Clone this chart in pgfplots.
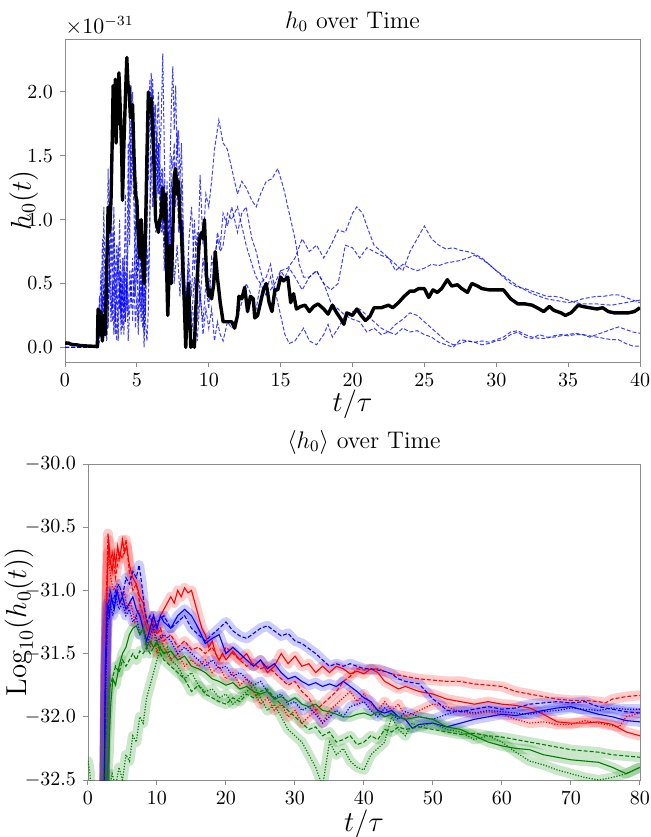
\documentclass[border=0pt]{standalone}
\usepackage{pgfplots}
\usepackage{pgfplotstable}
\pgfplotsset{compat=1.18}

\definecolor{mplgreen}{rgb}{0,0.5,0}

\pgfplotsset{
 myax/.style={scale only axis, axis line style={black!45}, tick style={black!45, line width=0.5pt},
  tick align=outside, major tick length=2.5pt, tick pos=left,
  tick label style={font=\fontsize{10}{12}\selectfont},
  label style={font=\fontsize{14.5}{17}\selectfont},
  title style={font=\fontsize{12}{14}\selectfont},
  yticklabel style={/pgf/number format/fixed, /pgf/number format/fixed zerofill, /pgf/number format/precision=1},
  scaled y ticks=false, scaled x ticks=false},
 blu/.style={blue, opacity=0.75, line width=0.5pt, dash pattern=on 2pt off 1pt},
 band/.style={draw opacity=0.2, line width=5pt, line join=round, line cap=round, forget plot},
 lsol/.style={line width=0.55pt},
 ldsh/.style={line width=0.55pt, dash pattern=on 2pt off 1pt},
 ldot/.style={line width=0.6pt, dash pattern=on 0.6pt off 0.8pt},
}

% ---------------- top panel data (units of 1e-31) ----------------
\pgfplotstableread{
t y
0 0.04
0.1 0.03
0.2 0.035
0.4 0.025
0.6 0.02
0.8 0.02
1.0 0.015
1.3 0.012
1.6 0.01
2.0 0.008
2.25 0.005
2.3 0.3
2.4 0.25
2.45 0.1
2.5 0.28
2.6 0.05
2.7 0.25
2.8 0.1
2.9 0.6
3.0 1.1
3.1 0.9
3.2 1.15
3.3 1.7
3.35 2.05
3.45 1.85
3.5 2.1
3.55 1.6
3.65 2.0
3.7 1.75
3.75 2.15
3.85 1.85
3.95 1.5
4.0 1.15
4.1 1.6
4.2 1.95
4.3 2.27
4.4 2.0
4.45 2.05
4.55 1.8
4.7 1.9
4.8 1.5
4.9 1.2
5.0 1.15
5.1 0.85
5.2 0.7
5.3 1.0
5.4 0.65
5.5 0.5
5.6 0.9
5.7 1.5
5.8 2.0
5.9 1.85
6.0 1.95
6.1 1.7
6.2 1.4
6.3 1.0
6.4 0.95
6.5 0.9
6.6 1.0
6.7 1.05
6.8 1.25
6.9 1.0
7.0 1.2
7.05 0.7
7.15 0.25
7.3 0.8
7.4 0.5
7.5 0.9
7.6 1.35
7.7 1.4
7.8 1.2
7.9 1.3
8.0 1.0
8.1 0.9
8.2 0.6
8.3 0.35
8.4 0.0
8.5 0.3
8.6 0.5
8.75 0.0
8.9 0.05
9.0 0.0
9.1 0.3
9.2 0.55
9.35 0.85
9.5 0.9
9.6 0.85
9.7 1.0
9.85 0.55
10.0 0.4
10.1 0.45
10.2 0.38
10.35 0.5
10.45 0.75
10.6 0.55
10.8 0.35
11.0 0.2
11.3 0.2
11.6 0.2
11.8 0.15
12.0 0.25
12.1 0.4
12.3 0.38
12.5 0.47
12.7 0.28
12.9 0.4
13.1 0.38
13.2 0.23
13.4 0.25
13.6 0.35
13.8 0.45
14.0 0.5
14.2 0.35
14.4 0.28
14.6 0.45
14.8 0.45
15.0 0.55
15.2 0.52
15.5 0.55
15.7 0.35
15.9 0.42
16.1 0.3
16.4 0.32
16.7 0.33
17.0 0.28
17.3 0.32
17.6 0.34
18.0 0.3
18.3 0.26
18.6 0.33
18.9 0.27
19.2 0.22
19.4 0.18
19.6 0.27
20.0 0.25
20.3 0.3
20.6 0.25
20.9 0.21
21.2 0.24
21.5 0.31
22.0 0.31
22.5 0.33
22.8 0.31
23.2 0.35
23.6 0.4
24.0 0.44
24.3 0.44
24.6 0.46
25.0 0.46
25.3 0.39
25.6 0.45
25.9 0.43
26.2 0.46
26.6 0.53
26.9 0.48
27.3 0.49
27.6 0.46
28.0 0.43
28.3 0.5
28.7 0.48
29.0 0.46
29.5 0.45
30.0 0.45
30.5 0.45
31.0 0.38
31.5 0.34
32.0 0.34
32.5 0.33
33.0 0.3
33.3 0.28
33.7 0.32
34.0 0.29
34.5 0.27
34.8 0.25
35.2 0.27
35.7 0.33
36.0 0.32
36.5 0.31
37.0 0.3
37.4 0.31
37.8 0.28
38.2 0.27
38.7 0.27
39.2 0.27
39.6 0.28
40.0 0.31
}\tabblk

\pgfplotstableread{
t y
0 0
2.3 0
2.4 0.4
2.5 0.1
2.6 0.85
2.7 0.2
2.8 0.6
2.9 0.1
3.0 1.4
3.1 0.5
3.2 1.0
3.3 0.3
3.4 0.9
3.5 0.2
3.6 0.6
3.7 0.05
3.8 0.5
3.9 0.2
4.0 0.7
4.1 0.3
4.2 1.2
4.3 0.4
4.4 0.9
4.5 1.8
4.6 1.2
4.7 2.0
4.8 1.5
4.9 0.9
5.0 1.3
5.1 0.6
5.2 1.0
5.3 0.3
5.4 0.7
5.5 0.0
5.6 0.4
5.7 1.7
5.8 1.3
5.9 2.1
6.0 1.8
6.1 2.0
6.2 1.5
6.3 1.9
6.4 1.2
6.5 1.6
6.6 1.0
6.7 1.4
6.8 0.9
6.9 1.3
7.0 0.6
7.1 1.1
7.2 0.8
7.3 1.2
7.4 0.6
7.5 0.9
7.6 0.5
7.8 0.8
8.0 0.4
8.2 0.9
8.4 0.3
8.6 0.5
8.8 0.1
9.0 0.3
9.2 0.05
9.4 0.4
9.6 0.2
9.8 0.5
10.0 0.3
10.2 0.7
10.4 0.6
10.6 0.9
10.8 0.8
11.0 1.05
11.3 0.95
11.6 1.1
12.0 0.9
12.3 1.05
12.6 1.1
13.0 0.85
13.3 0.75
13.6 0.6
14.0 0.45
14.3 0.55
14.6 0.4
15.0 0.6
15.5 0.62
16.0 0.7
16.5 0.85
17.0 0.75
17.5 0.8
18.0 0.7
18.5 0.8
19.0 0.92
19.5 0.9
20.0 1.05
20.3 1.1
20.7 1.05
21.0 0.95
21.5 0.8
22.0 0.75
22.5 0.7
23.0 0.65
23.5 0.6
24.0 0.75
24.5 0.85
25.0 0.95
25.5 0.85
26.0 0.8
26.5 0.77
27.0 0.78
27.5 0.76
28.0 0.75
28.5 0.73
29.0 0.7
29.5 0.65
30.0 0.6
30.5 0.55
31.0 0.5
31.5 0.47
32.0 0.46
32.5 0.44
33.0 0.42
33.5 0.4
34.0 0.4
34.5 0.39
35.0 0.37
35.5 0.35
36.0 0.34
37.0 0.34
38.0 0.33
39.0 0.35
40.0 0.37
}\tabbone

\pgfplotstableread{
t y
0 0
2.3 0
2.4 0.2
2.5 0.6
2.6 0.1
2.7 1.1
2.8 0.3
2.9 0.9
3.0 0.15
3.1 0.7
3.2 1.3
3.3 0.6
3.4 1.1
3.5 0.4
3.6 0.8
3.7 0.5
3.8 1.0
3.9 0.25
4.0 0.5
4.1 0.1
4.2 0.6
4.3 0.3
4.4 1.6
4.5 0.8
4.6 2.05
4.7 1.4
4.8 1.1
4.9 0.4
5.0 0.8
5.1 0.2
5.2 0.6
5.3 0.9
5.4 0.4
5.5 0.8
5.6 0.2
5.7 0.05
5.8 0.3
5.9 1.0
6.0 2.15
6.1 1.6
6.2 1.9
6.3 1.3
6.4 1.7
6.5 2.0
6.6 1.5
6.7 1.8
6.8 2.3
6.9 1.6
7.0 0.9
7.1 1.3
7.2 0.7
7.3 1.4
7.4 1.9
7.5 2.2
7.6 1.7
7.7 2.05
7.8 1.5
7.9 1.7
8.0 1.3
8.1 1.6
8.2 1.1
8.3 0.6
8.4 0.3
8.6 0.7
8.8 0.4
9.0 1.0
9.2 0.5
9.4 1.35
9.6 0.8
9.8 1.2
10.0 1.1
10.2 1.3
10.4 1.55
10.7 1.78
11.0 1.6
11.3 1.55
11.6 1.4
12.0 1.2
12.3 1.3
12.6 1.25
13.0 1.15
13.3 1.1
13.6 1.2
14.0 1.3
14.4 1.32
14.8 1.4
15.2 1.25
15.6 1.05
16.0 0.85
16.3 0.65
16.6 0.55
17.0 0.55
17.5 0.6
18.0 0.5
18.5 0.35
19.0 0.3
19.5 0.25
20.0 0.22
20.5 0.2
21.0 0.12
21.5 0.15
22.0 0.1
22.5 0.12
23.0 0.1
23.5 0.15
24.0 0.12
24.5 0.13
25.0 0.1
25.5 0.08
26.0 0.04
26.5 0.02
27.0 0.0
27.5 0.06
28.0 0.05
28.5 0.04
29.0 0.05
29.5 0.04
30.0 0.06
30.5 0.08
31.0 0.12
31.5 0.13
32.0 0.1
32.5 0.08
33.0 0.07
33.5 0.07
34.0 0.09
34.5 0.1
35.0 0.09
35.5 0.1
36.0 0.1
36.5 0.09
37.0 0.08
37.5 0.07
38.0 0.06
38.5 0.06
39.0 0.03
39.5 0.01
40.0 0.01
}\tabbtwo

\pgfplotstableread{
t y
0 0
2.3 0
2.4 0.1
2.5 0.3
2.6 0.05
2.7 0.5
2.8 0.2
2.9 0.7
3.0 0.3
3.1 0.8
3.2 0.4
3.3 0.2
3.4 0.6
3.5 0.1
3.6 0.45
3.7 0.8
3.8 0.3
3.9 0.6
4.0 0.15
4.1 0.45
4.2 0.2
4.3 0.55
4.4 0.25
4.5 0.6
4.6 0.3
4.7 0.7
4.8 0.4
4.9 0.95
5.0 0.5
5.1 0.8
5.2 0.35
5.3 0.6
5.4 0.15
5.5 0.5
5.6 0.25
5.7 0.8
5.8 0.5
5.9 1.0
6.0 1.5
6.1 1.1
6.2 1.3
6.3 0.9
6.4 1.2
6.5 1.6
6.6 1.2
6.7 1.0
6.8 1.4
6.9 0.8
7.0 1.1
7.1 0.5
7.2 0.9
7.3 0.6
7.4 1.5
7.5 1.4
7.6 1.6
7.7 1.2
7.8 1.7
7.9 1.3
8.0 0.9
8.1 1.3
8.2 0.8
8.3 0.5
8.4 0.2
8.6 0.8
8.8 1.1
9.0 0.6
9.2 0.9
9.4 0.35
9.6 0.7
9.8 0.5
10.0 0.55
10.2 0.4
10.4 0.7
10.6 0.85
10.8 0.75
11.0 0.8
11.3 1.05
11.6 1.0
12.0 1.1
12.3 0.95
12.6 0.8
13.0 0.65
13.3 0.55
13.6 0.5
14.0 0.4
14.3 0.45
14.6 0.5
15.0 0.6
15.3 0.55
15.6 0.62
16.0 0.55
16.5 0.45
17.0 0.55
17.5 0.6
18.0 0.5
18.5 0.45
19.0 0.5
19.5 0.8
20.0 0.78
20.5 0.7
21.0 0.78
21.5 0.75
22.0 0.72
22.5 0.7
23.0 0.6
23.5 0.65
24.0 0.62
24.5 0.6
25.0 0.62
25.5 0.65
26.0 0.64
26.5 0.66
27.0 0.67
27.5 0.68
28.0 0.7
28.5 0.72
29.0 0.69
29.5 0.65
30.0 0.6
30.5 0.56
31.0 0.52
31.5 0.48
32.0 0.45
32.5 0.42
33.0 0.4
33.5 0.38
34.0 0.37
34.5 0.36
35.0 0.35
35.5 0.36
36.0 0.38
36.5 0.39
37.0 0.4
37.5 0.4
38.0 0.41
38.5 0.41
39.0 0.39
39.5 0.37
40.0 0.35
}\tabbthree

\pgfplotstableread{
t y
0 0
2.3 0
2.4 0.05
2.5 0.2
2.6 0.4
2.7 0.15
2.8 0.35
2.9 0.05
3.0 0.25
3.1 0.6
3.2 0.2
3.3 0.5
3.4 0.1
3.5 0.35
3.6 0.05
3.7 0.3
3.8 0.6
3.9 0.1
4.0 0.4
4.1 0.7
4.2 0.2
4.3 0.5
4.4 0.05
4.5 0.3
4.6 0.6
4.7 0.2
4.8 0.55
4.9 0.15
5.0 0.4
5.1 0.1
5.2 0.45
5.3 0.2
5.4 0.5
5.5 0.1
5.6 0.6
5.7 0.9
5.8 1.6
5.9 1.9
6.0 1.7
6.1 2.1
6.2 1.8
6.3 1.4
6.4 1.7
6.5 1.2
6.6 1.5
6.7 0.9
6.8 1.2
6.9 0.6
7.0 0.9
7.1 0.4
7.2 0.7
7.3 1.0
7.4 1.3
7.5 1.0
7.6 1.45
7.7 1.1
7.8 1.35
7.9 0.9
8.0 1.2
8.1 0.8
8.2 1.0
8.3 0.6
8.4 0.3
8.6 0.6
8.8 0.2
9.0 0.55
9.2 0.2
9.4 0.45
9.6 0.1
9.8 0.3
10.0 0.15
10.2 0.3
10.4 0.05
10.6 0.2
10.8 0.1
11.0 0.05
11.3 0.2
11.6 0.15
12.0 0.25
12.3 0.35
12.6 0.5
13.0 0.4
13.3 0.3
13.6 0.5
14.0 0.55
14.3 0.65
14.6 0.45
15.0 0.25
15.3 0.1
15.6 0.03
16.0 0.05
16.3 0.1
16.6 0.15
17.0 0.05
17.5 0.02
18.0 0.1
18.3 0.18
18.6 0.08
19.0 0.15
19.5 0.25
20.0 0.28
20.5 0.3
21.0 0.25
21.5 0.2
22.0 0.15
22.5 0.12
23.0 0.18
23.5 0.22
24.0 0.27
24.5 0.25
25.0 0.2
25.5 0.15
26.0 0.1
26.5 0.05
27.0 0.02
27.5 0.03
28.0 0.05
28.5 0.04
29.0 0.02
29.5 0.03
30.0 0.05
30.5 0.06
31.0 0.1
31.5 0.12
32.0 0.08
32.5 0.07
33.0 0.1
33.5 0.08
34.0 0.08
34.5 0.09
35.0 0.1
35.5 0.11
36.0 0.1
36.5 0.08
37.0 0.1
37.5 0.12
38.0 0.14
38.5 0.16
39.0 0.14
39.5 0.12
40.0 0.11
}\tabbfour

% ---------------- bottom panel data: t, log10 mean ----------------
\pgfplotstableread{
t y
2.3 -33.0
2.6 -31.3
2.8 -30.9
3.0 -30.6
3.2 -30.75
3.5 -30.85
3.8 -30.7
4.0 -30.8
4.3 -30.65
4.6 -30.75
5.0 -30.6
5.3 -30.7
5.6 -30.65
6.0 -30.8
6.5 -30.9
7.0 -30.95
7.5 -31.05
8.0 -31.1
8.5 -31.25
9.0 -31.3
9.5 -31.2
10 -31.3
10.5 -31.2
11 -31.15
11.5 -31.1
12 -31.05
12.5 -31.1
13 -31.0
13.5 -31.05
14 -30.98
14.5 -31.02
15 -31.0
15.5 -31.1
16 -31.2
16.5 -31.3
17 -31.35
17.5 -31.45
18 -31.4
18.5 -31.5
19 -31.55
19.5 -31.5
20 -31.55
21 -31.48
22 -31.55
23 -31.5
24 -31.6
25 -31.55
26 -31.65
27 -31.6
28 -31.5
29 -31.58
30 -31.52
31 -31.6
32 -31.58
33 -31.65
34 -31.6
35 -31.65
36 -31.6
37 -31.62
38 -31.66
39 -31.64
40 -31.66
41 -31.62
42 -31.65
43 -31.72
44 -31.75
45 -31.78
46 -31.76
48 -31.8
50 -31.82
52 -31.86
54 -31.88
56 -31.9
58 -31.88
60 -31.9
62 -31.91
64 -31.93
66 -31.98
68 -32.04
70 -32.05
72 -32.05
74 -32.04
76 -32.06
78 -32.12
80 -32.15
}\tabrs

\pgfplotstableread{
t y
2.3 -33.0
2.6 -31.2
2.9 -30.55
3.2 -30.8
3.5 -30.7
4.0 -30.9
4.5 -30.7
5.0 -30.75
5.5 -30.6
6.0 -30.85
6.5 -31.0
7.0 -30.95
7.5 -31.1
8.0 -31.2
8.5 -31.3
9.0 -31.35
9.5 -31.25
10 -31.35
10.5 -31.3
11 -31.4
12 -31.35
13 -31.45
14 -31.4
15 -31.47
16 -31.45
17 -31.5
18 -31.45
19 -31.55
20 -31.45
21 -31.5
22 -31.55
23 -31.6
24 -31.58
25 -31.62
26 -31.6
27 -31.65
28 -31.7
29 -31.75
30 -31.72
31 -31.8
32 -31.85
33 -31.95
34 -31.9
35 -31.85
36 -31.8
37 -31.72
38 -31.68
39 -31.62
40 -31.63
42 -31.62
44 -31.66
46 -31.68
48 -31.7
50 -31.71
52 -31.72
54 -31.72
56 -31.74
58 -31.75
60 -31.76
62 -31.8
64 -31.82
66 -31.84
68 -31.86
70 -31.87
72 -31.87
74 -31.88
75 -31.89
76 -31.86
78 -31.84
80 -31.83
}\tabrd

\pgfplotstableread{
t y
2.3 -33.0
2.6 -31.5
2.9 -30.7
3.3 -30.9
3.7 -31.0
4.2 -30.95
4.7 -31.1
5.2 -31.0
5.7 -31.15
6.2 -31.1
6.8 -31.25
7.3 -31.15
8.0 -31.3
8.5 -31.35
9.0 -31.45
9.5 -31.3
10 -31.5
10.5 -31.35
11 -31.45
12 -31.55
13 -31.5
14 -31.6
15 -31.55
16 -31.6
17 -31.55
18 -31.65
19 -31.6
20 -31.7
21 -31.65
22 -31.75
23 -31.7
24 -31.8
25 -31.9
26 -31.85
27 -31.95
28 -31.9
29 -32.0
30 -31.95
31 -32.05
32 -32.0
33 -31.95
34 -32.05
35 -31.95
36 -31.9
37 -31.85
38 -31.8
39 -31.88
40 -31.82
41 -31.9
42 -31.95
43 -31.88
44 -31.95
45 -31.9
46 -32.0
48 -31.95
50 -31.9
52 -31.92
54 -31.96
56 -31.98
58 -31.96
60 -31.98
62 -32.02
64 -32.05
66 -32.04
68 -32.06
70 -32.06
72 -32.03
74 -32.05
76 -32.07
77 -32.08
78 -32.0
80 -31.97
}\tabrt

\pgfplotstableread{
t y
2.3 -33.0
2.5 -31.6
2.8 -31.1
3.1 -31.2
3.4 -31.05
3.8 -31.15
4.2 -31.0
4.6 -31.1
5.0 -31.05
5.5 -31.15
6.0 -31.1
6.5 -31.05
7.0 -31.15
7.5 -31.2
8.0 -31.3
8.5 -31.4
9.0 -31.3
9.5 -31.2
10 -31.3
10.5 -31.2
11 -31.25
12 -31.3
13 -31.2
14 -31.15
15 -31.2
16 -31.3
17 -31.42
18 -31.38
19 -31.35
20 -31.5
21 -31.45
22 -31.5
23 -31.55
24 -31.6
25 -31.55
26 -31.62
27 -31.58
28 -31.65
29 -31.7
30 -31.68
31 -31.72
32 -31.75
33 -31.73
34 -31.76
35 -31.74
36 -31.76
37 -31.72
38 -31.76
39 -31.8
40 -31.85
41 -31.88
42 -31.95
43 -31.97
44 -31.95
45 -32.0
46 -32.02
47 -32.09
48 -32.06
50 -32.05
52 -32.08
54 -32.05
56 -32.02
58 -32.0
60 -31.98
62 -31.99
64 -31.97
66 -31.95
68 -31.93
70 -31.92
72 -31.95
74 -31.98
76 -32.0
78 -32.03
80 -32.04
}\tabbs

\pgfplotstableread{
t y
2.3 -33.0
2.5 -31.8
2.8 -31.2
3.2 -31.0
3.6 -31.1
4.0 -31.0
4.5 -30.95
5.0 -31.05
5.5 -30.9
6.0 -30.95
6.5 -30.85
7.0 -30.9
7.4 -30.8
7.8 -30.95
8.2 -31.15
8.6 -31.25
9.0 -31.2
9.5 -31.3
10 -31.25
11 -31.2
12 -31.3
13 -31.25
14 -31.2
15 -31.3
16 -31.35
17 -31.4
18 -31.35
19 -31.3
20 -31.25
21 -31.32
22 -31.36
23 -31.38
24 -31.34
25 -31.3
26 -31.28
27 -31.32
28 -31.36
29 -31.34
30 -31.4
31 -31.42
32 -31.46
33 -31.5
34 -31.55
35 -31.6
36 -31.58
37 -31.6
38 -31.58
39 -31.6
40 -31.62
41 -31.62
42 -31.63
43 -31.64
44 -31.66
45 -31.7
46 -31.72
48 -31.74
49 -31.8
50 -31.86
51 -31.9
52 -31.95
54 -31.96
56 -31.94
58 -31.92
60 -31.94
62 -31.93
64 -31.9
66 -31.89
68 -31.88
70 -31.89
72 -31.88
74 -31.92
76 -31.94
78 -31.96
80 -31.97
}\tabbd

\pgfplotstableread{
t y
2.3 -33.0
2.5 -32.0
2.8 -31.3
3.2 -31.1
3.6 -31.2
4.0 -31.05
4.5 -31.15
5.0 -31.1
5.5 -31.2
6.0 -31.15
6.5 -31.25
7.0 -31.2
7.5 -31.35
8.0 -31.3
8.5 -31.45
9.0 -31.35
9.5 -31.3
10 -31.4
11 -31.35
12 -31.4
13 -31.5
14 -31.45
15 -31.5
16 -31.55
17 -31.6
18 -31.55
19 -31.62
20 -31.6
21 -31.68
22 -31.65
23 -31.7
24 -31.75
25 -31.72
26 -31.8
27 -31.85
28 -31.82
29 -31.9
30 -31.88
31 -31.95
32 -31.92
33 -31.98
34 -32.05
35 -32.0
36 -31.95
37 -32.0
38 -31.92
39 -31.9
40 -31.88
41 -31.95
42 -32.0
43 -31.93
44 -31.98
45 -32.02
46 -31.96
48 -32.0
50 -32.02
52 -31.98
54 -31.95
56 -31.97
58 -31.95
60 -31.96
62 -31.97
64 -31.98
66 -31.96
68 -31.95
70 -31.93
72 -31.94
74 -31.95
76 -31.93
78 -31.94
80 -31.94
}\tabbt

\pgfplotstableread{
t y
2.3 -33.0
2.6 -32.6
3.0 -32.3
3.3 -31.9
3.6 -31.7
4.0 -31.75
4.5 -31.6
5.0 -31.5
5.5 -31.45
6.0 -31.35
6.5 -31.3
7.0 -31.28
7.5 -31.35
8.0 -31.3
8.5 -31.45
9.0 -31.4
9.5 -31.45
10 -31.42
11 -31.5
12 -31.48
13 -31.55
14 -31.52
15 -31.6
16 -31.62
17 -31.65
18 -31.7
19 -31.72
20 -31.75
21 -31.73
22 -31.78
23 -31.76
24 -31.8
25 -31.82
26 -31.8
27 -31.86
28 -31.84
29 -31.88
30 -31.85
31 -31.9
32 -31.92
33 -31.9
34 -31.95
35 -31.96
36 -31.98
37 -32.0
38 -32.0
39 -31.98
40 -31.97
41 -31.99
42 -31.96
43 -32.0
44 -31.98
45 -32.0
46 -32.02
48 -32.0
50 -32.02
52 -32.08
54 -32.1
56 -32.15
58 -32.2
60 -32.23
62 -32.25
64 -32.26
66 -32.3
68 -32.32
70 -32.34
72 -32.35
74 -32.36
76 -32.4
78 -32.45
80 -32.4
}\tabgs

\pgfplotstableread{
t y
2.3 -33.0
2.6 -32.2
3.0 -31.8
3.5 -31.7
4.0 -31.6
4.5 -31.65
5.0 -31.55
5.5 -31.6
6.0 -31.55
6.5 -31.5
7.0 -31.55
7.5 -31.48
8.0 -31.5
8.5 -31.45
9.0 -31.5
9.5 -31.45
10 -31.4
10.5 -31.5
11 -31.55
12 -31.6
13 -31.65
14 -31.7
15 -31.8
16 -31.75
17 -31.82
18 -31.85
19 -31.88
20 -31.9
21 -31.85
22 -31.88
23 -31.82
24 -31.85
25 -31.8
26 -31.78
27 -31.85
28 -31.9
29 -31.95
30 -32.0
31 -32.05
32 -32.1
33 -32.08
34 -32.15
35 -32.12
36 -32.2
37 -32.18
38 -32.15
39 -32.22
40 -32.2
41 -32.15
42 -32.18
43 -32.1
44 -32.12
45 -32.08
46 -32.1
48 -32.08
50 -32.1
52 -32.12
54 -32.14
56 -32.13
58 -32.15
60 -32.16
62 -32.18
64 -32.2
66 -32.22
68 -32.24
70 -32.26
72 -32.27
74 -32.28
76 -32.3
78 -32.31
80 -32.32
}\tabgd

\pgfplotstableread{
t y
0 -32.35
0.3 -32.45
0.6 -33.0
2.5 -33.0
3.0 -32.6
3.5 -32.45
4.0 -32.55
4.5 -32.4
5.0 -32.5
5.5 -32.3
6.0 -32.35
6.5 -32.15
7.0 -32.2
7.5 -32.0
8.0 -32.05
8.5 -31.85
9.0 -31.75
9.5 -31.65
10 -31.55
10.5 -31.45
11 -31.5
11.5 -31.45
12 -31.55
13 -31.6
14 -31.7
15 -31.65
16 -31.75
17 -31.8
18 -31.78
19 -31.85
20 -31.82
21 -31.9
22 -31.85
23 -31.8
24 -31.75
25 -31.85
26 -31.95
27 -31.9
28 -32.0
29 -32.1
30 -32.15
31 -32.2
32 -32.3
33 -32.4
34 -32.55
35 -32.2
36 -32.3
37 -32.25
38 -32.35
39 -32.4
40 -32.42
41 -32.3
42 -32.25
43 -32.2
44 -32.0
45 -32.1
46 -32.15
47 -32.05
48 -32.08
50 -32.05
52 -32.1
54 -32.12
56 -32.18
58 -32.15
60 -32.2
62 -32.28
64 -32.35
66 -32.38
68 -32.42
70 -32.45
72 -32.48
74 -32.5
76 -32.48
78 -32.45
80 -32.4
}\tabgt

\begin{document}
\begin{tikzpicture}
\useasboundingbox (0,0) rectangle (325pt,418.5pt);

% ================= top panel =================
\begin{axis}[myax, at={(32.5pt,237.5pt)}, anchor=south west,
  width=287.5pt, height=161.5pt,
  xmin=0, xmax=40, ymin=-0.115, ymax=2.415,
  xtick={0,5,...,40}, ytick={0,0.5,1,1.5,2},
  title={$h_0$ over Time},
  title style={at={(axis description cs:0.5,1)}, anchor=base, yshift=-0.5pt},
  xlabel={$t/\tau$}, ylabel={$h_0(t)$},
  xlabel style={at={(axis description cs:0.5,-0.13)}, anchor=center},
  ylabel style={at={(axis description cs:-0.072,0.5)}, anchor=center},
  after end axis/.code={\node[anchor=south west, inner sep=0pt, font=\fontsize{10.5}{12}\selectfont] at (rel axis cs:0,1.01) {$\times10^{-31}$};}
]
\addplot[blu] table[x=t,y=y] {\tabbone};
\addplot[blu] table[x=t,y=y] {\tabbtwo};
\addplot[blu] table[x=t,y=y] {\tabbthree};
\addplot[blu] table[x=t,y=y] {\tabbfour};
\addplot[black, line width=1.7pt, line join=round] table[x=t,y=y] {\tabblk};
\end{axis}

% ================= bottom panel =================
\begin{axis}[myax, at={(44pt,28.5pt)}, anchor=south west,
  width=276pt, height=158pt,
  xmin=0, xmax=80, ymin=-32.5, ymax=-30,
  xtick={0,10,...,80}, ytick={-32.5,-32,-31.5,-31,-30.5,-30},
  title={$\langle h_0\rangle$ over Time},
  title style={at={(axis description cs:0.5,1)}, anchor=base, yshift=2pt},
  xlabel={$t/\tau$}, ylabel={$\mathrm{Log}_{10}(h_0(t))$},
  xlabel style={at={(axis description cs:0.5,-0.139)}, anchor=center},
  ylabel style={at={(axis description cs:-0.125,0.5)}, anchor=center},
]
\addplot[red, band] table[x=t,y=y] {\tabrs};
\addplot[red, band] table[x=t,y=y] {\tabrd};
\addplot[red, band] table[x=t,y=y] {\tabrt};
\addplot[blue, band] table[x=t,y=y] {\tabbs};
\addplot[blue, band] table[x=t,y=y] {\tabbd};
\addplot[blue, band] table[x=t,y=y] {\tabbt};
\addplot[mplgreen, band] table[x=t,y=y] {\tabgs};
\addplot[mplgreen, band] table[x=t,y=y] {\tabgd};
\addplot[mplgreen, band] table[x=t,y=y] {\tabgt};
\addplot[red, lsol] table[x=t,y=y] {\tabrs};
\addplot[red, ldsh] table[x=t,y=y] {\tabrd};
\addplot[red, ldot] table[x=t,y=y] {\tabrt};
\addplot[blue, lsol] table[x=t,y=y] {\tabbs};
\addplot[blue, ldsh] table[x=t,y=y] {\tabbd};
\addplot[blue, ldot] table[x=t,y=y] {\tabbt};
\addplot[mplgreen, lsol] table[x=t,y=y] {\tabgs};
\addplot[mplgreen, ldsh] table[x=t,y=y] {\tabgd};
\addplot[mplgreen, ldot] table[x=t,y=y] {\tabgt};
\end{axis}
\end{tikzpicture}
\end{document}
